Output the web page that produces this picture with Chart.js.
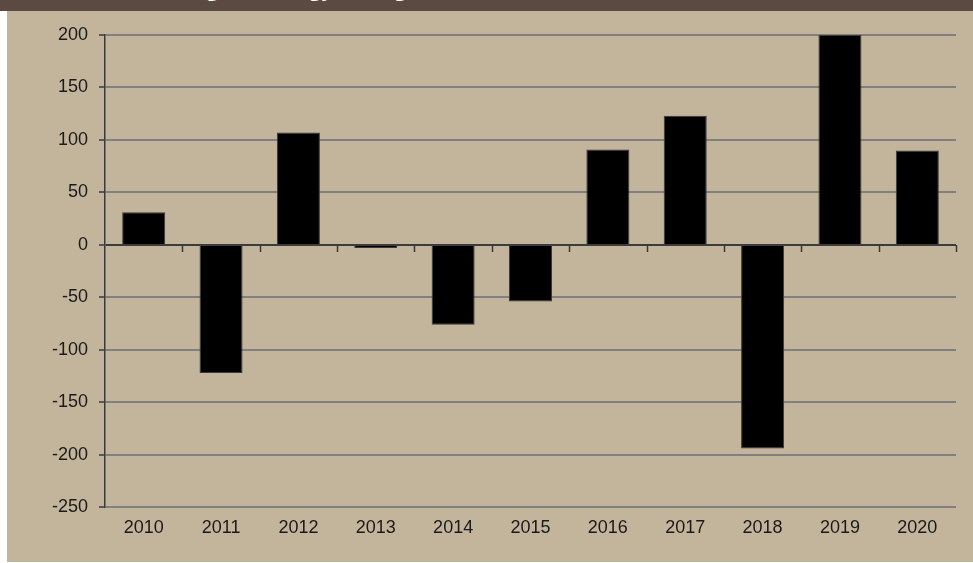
<!DOCTYPE html>
<html>
<head>
<meta charset="utf-8">
<script src="https://cdn.jsdelivr.net/npm/chart.js@4/dist/chart.umd.min.js"></script>
<style>
  html, body { margin: 0; padding: 0; background: #fff; }
  #head {
    position: absolute; left: 0; top: 0; width: 973px; height: 11px;
    background: #5a4a41; overflow: hidden;
  }
  #head span {
    position: absolute; left: 153px; bottom: 9px; line-height: 26px;
    font: bold 21px "Open Sans", sans-serif; color: #fff; white-space: nowrap;
  }
  #panel {
    position: absolute; left: 7px; top: 11px; width: 966px; height: 551px;
    background: #c3b59b;
  }
</style>
</head>
<body>
<div id="head"><span>Change in Energy Storage (Alberta, Billion Cubic Feet)</span></div>
<div id="panel"><canvas id="myChart" width="966" height="551"></canvas></div>
<script>
  var years = ["2010", "2011", "2012", "2013", "2014", "2015", "2016", "2017", "2018", "2019", "2020"];
  var changes = [31, -122, 107, -3, -76, -54, 91, 123, -194, 200, 90];
  var yMin = -250;
  var yMax = 200;
  var yStep = 50;

  // little tick marks on the zero line between categories
  var zeroTicks = {
    id: "zeroTicks",
    afterDatasetsDraw: function (chart) {
      var x = chart.scales.x, y = chart.scales.y, ctx = chart.ctx;
      var y0 = y.getPixelForValue(0);
      ctx.save();
      ctx.strokeStyle = "#3a3a3a";
      ctx.lineWidth = 1.5;
      ctx.beginPath();
      for (var i = 1; i <= years.length; i++) {
        var px = Math.round(x.getPixelForValue(i - 0.5)) + 0.5;
        ctx.moveTo(px, y0);
        ctx.lineTo(px, y0 + 7);
      }
      ctx.stroke();
      ctx.restore();
    }
  };

  var ctx = document.getElementById("myChart").getContext("2d");
  var myChart = new Chart(ctx, {
    type: "bar",
    data: {
      labels: years,
      datasets: [
        {
          data: changes,
          backgroundColor: "#000000",
          borderColor: "#3a3a3a",
          borderWidth: 1,
          categoryPercentage: 1,
          barPercentage: 0.556
        }
      ]
    },
    options: {
      responsive: false,
      animation: false,
      layout: { padding: { top: 24, right: 17, bottom: 0, left: 0 } },
      plugins: {
        legend: { display: false },
        tooltip: { enabled: false }
      },
      scales: {
        x: {
          offset: true,
          grid: { display: false, drawTicks: false },
          border: { display: false },
          ticks: {
            color: "#1a1a1a",
            padding: 10,
            maxRotation: 0,
            font: { family: "'Liberation Sans', Arial, sans-serif", size: 18 }
          },
          afterFit: function (scale) { scale.height = 54.7; }
        },
        y: {
          min: yMin,
          max: yMax,
          ticks: {
            stepSize: yStep,
            color: "#1a1a1a",
            padding: 11,
            font: { family: "'Liberation Sans', Arial, sans-serif", size: 18 }
          },
          grid: {
            color: function (c) { return c.tick && c.tick.value === 0 ? "#3c3c3c" : "#808080"; },
            lineWidth: 2,
            tickColor: "#3a3a3a",
            tickWidth: 1.5,
            tickLength: 6
          },
          border: { display: true, color: "#3a3a3a", width: 1.5 },
          afterFit: function (scale) { scale.width = 98; }
        }
      }
    },
    plugins: [zeroTicks]
  });
</script>
</body>
</html>
